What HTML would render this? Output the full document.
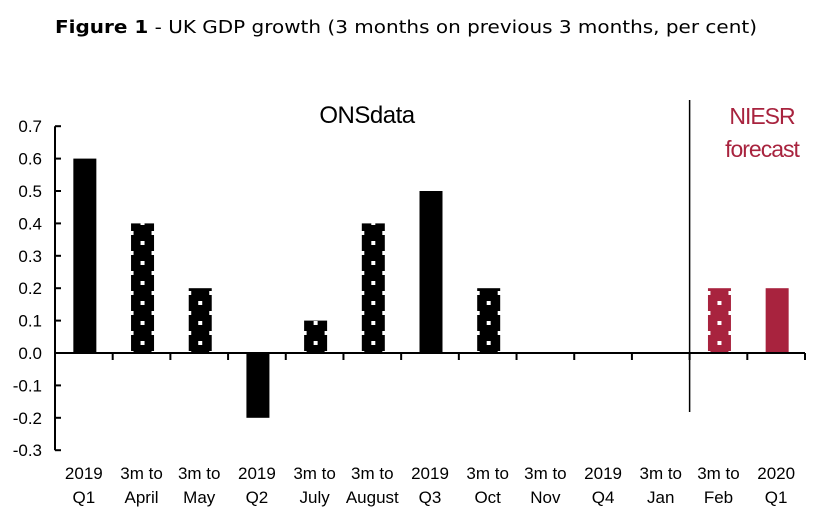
<!DOCTYPE html>
<html><head><meta charset="utf-8"><style>
body{margin:0;background:#fff;width:825px;height:517px;overflow:hidden;font-family:"Liberation Sans",sans-serif}
</style></head><body>
<svg id="svg" width="825" height="517" xmlns="http://www.w3.org/2000/svg">
<defs id="defs"></defs>
<text x="55" y="33" font-size="18" textLength="702" lengthAdjust="spacingAndGlyphs" font-family="DejaVu Sans, sans-serif"><tspan font-weight="bold">Figure 1</tspan> - UK GDP growth (3 months on previous 3 months, per cent)</text>
<g id="plot"></g>
<text x="367" y="123" font-size="24" text-anchor="middle" letter-spacing="-0.5">ONSdata</text>
<text x="762" y="124" font-size="23" fill="#a8233e" text-anchor="middle" letter-spacing="-1">NIESR</text>
<text x="762" y="157" font-size="23" fill="#a8233e" text-anchor="middle" letter-spacing="-1">forecast</text>
</svg>
<script>
const categories1 = ["2019","3m to","3m to","2019","3m to","3m to","2019","3m to","3m to","2019","3m to","3m to","2020"];
const categories2 = ["Q1","April","May","Q2","July","August","Q3","Oct","Nov","Q4","Jan","Feb","Q1"];
const values = [0.6,0.4,0.2,-0.2,0.1,0.4,0.5,0.2,0,0,0,0.2,0.2];
const styles = ["solid","dots","dots","solid","dots","dots","solid","dots","dots","solid","dots","dotsRed","solidRed"];
const yTicks = [0.7,0.6,0.5,0.4,0.3,0.2,0.1,0.0,-0.1,-0.2,-0.3];
const forecastStart = 11;

const NS="http://www.w3.org/2000/svg";
const g=document.getElementById('plot');
const defs=document.getElementById('defs');
const x0=55,x1=805,yZero=353,pxPer=324;
const n=categories1.length, cw=(x1-x0)/n, bw=23;
const y=v=>yZero - v*pxPer;
const xc=i=>x0+cw*(i+0.5);
function mk(t,a,p){const e=document.createElementNS(NS,t);for(const k in a)e.setAttribute(k,a[k]);(p||g).appendChild(e);return e;}
function pattern(id,bx,col){
  const p=mk('pattern',{id:id,patternUnits:'userSpaceOnUse',x:bx,y:yZero,width:bw,height:20},defs);
  mk('rect',{width:bw,height:20,fill:col},p);
  mk('rect',{x:9.5,y:8,width:4,height:4,fill:'#fff'},p);
  mk('rect',{x:0,y:-2,width:2.5,height:4,fill:'#fff'},p);
  mk('rect',{x:bw-2.5,y:-2,width:2.5,height:4,fill:'#fff'},p);
  mk('rect',{x:0,y:18,width:2.5,height:4,fill:'#fff'},p);
  mk('rect',{x:bw-2.5,y:18,width:2.5,height:4,fill:'#fff'},p);
}

values.forEach((v,i)=>{
  if(v===0)return;
  const s=styles[i];
  const bx=xc(i)-bw/2+1;
  let fill;
  if(s==="solid")fill="#000";
  else if(s==="solidRed")fill="#a8233e";
  else{pattern('pat'+i,bx,s==="dotsRed"?"#a8233e":"#000");fill='url(#pat'+i+')';}
  const r=mk('rect',{x:bx,y:Math.min(y(v),yZero),width:bw,height:Math.abs(y(v)-yZero),fill:fill});
  
  
});
const ya=mk('line',{x1:x0,y1:y(0.7),x2:x0,y2:y(-0.3),stroke:'#000','stroke-width':2});


yTicks.forEach(t=>{
  mk('line',{x1:x0,y1:y(t),x2:x0+6,y2:y(t),stroke:'#000','stroke-width':2});
  const tx=mk('text',{x:42,y:y(t)+6,'font-size':17,'text-anchor':'end'});
  tx.textContent=t.toFixed(1);
  
  
});
const xa=mk('line',{x1:x0,y1:yZero,x2:x1,y2:yZero,stroke:'#000','stroke-width':2});


for(let i=0;i<=n;i++){mk('line',{x1:x0+cw*i,y1:yZero,x2:x0+cw*i,y2:yZero+7,stroke:'#000','stroke-width':2});}
categories1.forEach((c,i)=>{
  const t1=mk('text',{x:xc(i),y:479,'font-size':17,'text-anchor':'middle'});t1.textContent=c;
  
  
  const t2=mk('text',{x:xc(i),y:503,'font-size':17,'text-anchor':'middle'});t2.textContent=categories2[i];
  
  
});
const fl=mk('line',{x1:x0+cw*forecastStart,y1:100,x2:x0+cw*forecastStart,y2:412,stroke:'#000','stroke-width':1.5});


</script>
</body></html>
